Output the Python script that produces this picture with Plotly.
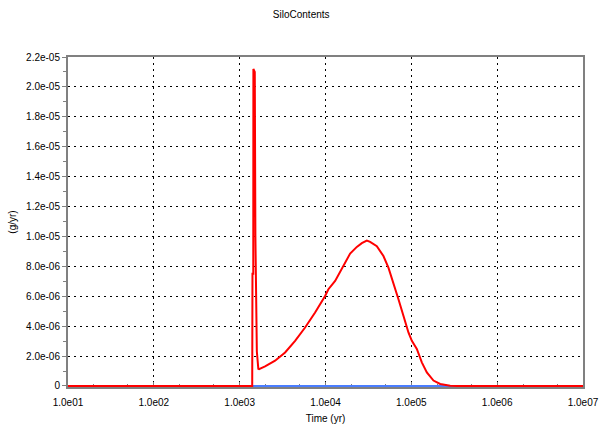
import plotly.graph_objects as go

# Red series: time (yr) and rate (g/yr)
red_t = [10, 1400, 1410, 1440, 1445, 1500, 1525, 1555, 1585, 1650, 1683, 1977, 2586, 3383,
         4424, 5786, 7567, 9893, 10810, 12950, 14800, 19360, 23170, 26500, 30290, 33110,
         39620, 47320, 54100, 61850, 70790, 80900, 92500, 101400, 115900, 132500, 151600,
         181100, 216700, 283400, 340000, 1e7]
red_v = [0, 0, 7.5e-6, 7.5e-6, 2.12e-5, 2.1e-5, 1.0e-5, 4.9e-6, 2.3e-6, 1.15e-6, 1.13e-6,
         1.31e-6, 1.69e-6, 2.24e-6, 3.02e-6, 3.91e-6, 4.91e-6, 6.02e-6, 6.47e-6, 7.02e-6,
         7.6e-6, 8.85e-6, 9.3e-6, 9.55e-6, 9.72e-6, 9.64e-6, 9.35e-6, 8.69e-6, 7.91e-6,
         6.91e-6, 5.8e-6, 4.69e-6, 3.58e-6, 3.02e-6, 2.47e-6, 1.58e-6, 0.91e-6, 0.36e-6,
         0.13e-6, 0.02e-6, 0, 0]

# Blue series
blue_t = [10, 1e7]
blue_v = [0, 0]

y_tickvals = [0, 2e-6, 4e-6, 6e-6, 8e-6, 1e-5, 1.2e-5, 1.4e-5, 1.6e-5, 1.8e-5, 2e-5, 2.2e-5]
y_ticktext = ["0", "2.0e-06", "4.0e-06", "6.0e-06", "8.0e-06", "1.0e-05", "1.2e-05",
              "1.4e-05", "1.6e-05", "1.8e-05", "2.0e-05", "2.2e-05"]
x_tickvals = [1e1, 1e2, 1e3, 1e4, 1e5, 1e6, 1e7]
x_ticktext = ["1.0e01", "1.0e02", "1.0e03", "1.0e04", "1.0e05", "1.0e06", "1.0e07"]

FONT = "Liberation Sans, Arial, sans-serif"

fig = go.Figure()
fig.add_trace(go.Scatter(x=blue_t, y=blue_v, mode="lines",
                         line=dict(color="#4a7dff", width=2), showlegend=False))
fig.add_trace(go.Scatter(x=red_t, y=red_v, mode="lines",
                         line=dict(color="#ff0000", width=2, shape="linear"), showlegend=False))

fig.update_layout(
    width=606, height=427,
    margin=dict(l=68, r=23, t=57, b=40, autoexpand=False),
    paper_bgcolor="white", plot_bgcolor="white",
    font=dict(family=FONT, size=10, color="black"),
    title=dict(text="SiloContents", x=0.497, xanchor="center", y=0.965, yanchor="middle",
               font=dict(size=10, family=FONT, color="black")),
)
fig.update_xaxes(
    type="log", range=[1, 7],
    tickvals=x_tickvals, ticktext=x_ticktext,
    showline=True, linecolor="#808080", linewidth=2, mirror=True,
    showgrid=True, gridcolor="black", gridwidth=1, griddash="2px,4px",
    ticks="inside", ticklen=5, tickcolor="#808080",
    minor=dict(ticks="inside", ticklen=3, tickcolor="#808080", showgrid=False),
    zeroline=False, layer="below traces", automargin=False,
    ticklabelstandoff=5,
    title=dict(text="Time (yr)", font=dict(size=10), standoff=8),
    tickfont=dict(size=10),
)
fig.update_yaxes(
    range=[-7e-8, 2.2e-5],
    tickvals=y_tickvals, ticktext=y_ticktext,
    showline=True, linecolor="#808080", linewidth=2, mirror=True,
    showgrid=True, gridcolor="black", gridwidth=1, griddash="2px,4px",
    ticks="outside", ticklen=4, tickcolor="#808080",
    minor=dict(dtick=1e-6, ticks="outside", ticklen=3, tickcolor="#808080", showgrid=False),
    zeroline=False, layer="below traces", automargin=False,
    title=dict(text="(g/yr)", font=dict(size=10), standoff=8),
    tickfont=dict(size=10),
)

fig.write_html("out.html")
